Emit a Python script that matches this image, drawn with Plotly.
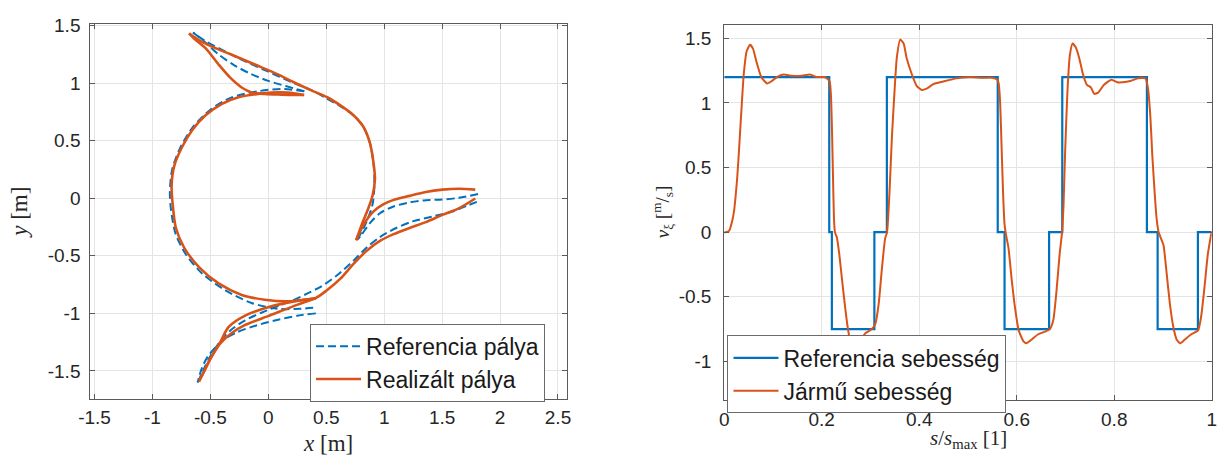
import plotly.graph_objects as go

# ---------------- Left chart: trajectories (None = separate segment) ----------------
ref_path_x = [
    -0.61, -0.56, -0.5, -0.42, -0.33, -0.2, -0.05, 0.1, 0.25, 0.33, 0.451, 0.593, 0.735, 0.849, 0.963, 1.104, 1.246, 1.417, 1.587, 1.729, 1.826, None,
    1.81, 1.644, 1.502, 1.36, 1.218, 1.076, 0.963, 0.877, 0.806, 0.77, None,
    0.77, 0.849, 0.9, 0.915, 0.91, 0.877, 0.82, 0.735, 0.62, 0.5, 0.37, 0.2, 0.0, -0.2, -0.4, -0.55, -0.65, None,
    -0.65, -0.55, -0.43, -0.3, -0.15, 0.0, 0.15, 0.31, None,
    0.31, 0.11, -0.09, -0.32, -0.5, -0.65, -0.76, -0.83, -0.85, -0.84, -0.8, -0.71, -0.57, -0.37, -0.145, 0.08, 0.28, 0.41, None,
    0.41, 0.261, 0.065, -0.098, -0.261, -0.391, -0.522, -0.575, -0.61,
]
ref_path_y = [
    -1.6, -1.49, -1.37, -1.25, -1.15, -1.06, -0.99, -0.93, -0.87, -0.83, -0.769, -0.669, -0.542, -0.428, -0.337, -0.258, -0.201, -0.158, -0.116, -0.059, -0.02, None,
    0.037, 0.004, -0.011, -0.016, -0.036, -0.073, -0.13, -0.215, -0.314, -0.357, None,
    -0.357, -0.2, -0.05, 0.1, 0.28, 0.48, 0.62, 0.72, 0.8, 0.87, 0.94, 1.01, 1.1, 1.19, 1.29, 1.37, 1.44, None,
    1.44, 1.36, 1.25, 1.16, 1.08, 1.02, 0.975, 0.93, None,
    0.93, 0.95, 0.93, 0.875, 0.77, 0.62, 0.44, 0.25, 0.05, -0.1, -0.31, -0.49, -0.655, -0.8, -0.91, -0.96, -0.96, -0.95, None,
    -1.0, -1.018, -1.06, -1.103, -1.16, -1.231, -1.374, -1.48, -1.6,
]
real_path_x = [
    -0.599, -0.556, -0.5, -0.415, -0.344, -0.2, 0.026, 0.2, 0.309, 0.409, 0.508, 0.622, 0.735, 0.849, 0.963, 1.076, 1.218, 1.36, 1.502, 1.644, 1.786, None,
    1.786, 1.644, 1.502, 1.36, 1.218, 1.076, 0.991, 0.906, 0.849, 0.792, 0.758, None,
    0.758, 0.806, 0.863, 0.9, 0.92, 0.911, 0.877, 0.82, 0.735, 0.622, 0.508, 0.366, 0.224, 0.082, -0.116, -0.315, -0.486, -0.599, -0.684, None,
    -0.684, -0.642, -0.542, -0.429, -0.329, -0.23, -0.145, -0.031, 0.111, 0.309, None,
    0.309, 0.168, 0.026, -0.088, -0.258, -0.4, -0.542, -0.656, -0.741, -0.812, -0.835, -0.826, -0.798, -0.727, -0.599, -0.429, -0.23, -0.031, 0.168, 0.309, 0.409, None,
    0.409, 0.253, -0.003, -0.2, -0.315, -0.415, -0.5, -0.556, -0.599,
]
real_path_y = [
    -1.592, -1.507, -1.393, -1.251, -1.12, -1.02, -0.939, -0.9, -0.882, -0.866, -0.797, -0.698, -0.57, -0.456, -0.371, -0.314, -0.258, -0.207, -0.144, -0.087, -0.002, None,
    0.075, 0.083, 0.075, 0.055, 0.021, -0.016, -0.053, -0.116, -0.187, -0.287, -0.365, None,
    -0.365, -0.229, -0.087, 0.026, 0.168, 0.282, 0.48, 0.622, 0.722, 0.807, 0.878, 0.94, 1.006, 1.077, 1.162, 1.247, 1.318, 1.375, 1.432, None,
    1.432, 1.389, 1.304, 1.162, 1.048, 0.963, 0.92, 0.906, 0.901, 0.898, None,
    0.898, 0.918, 0.918, 0.906, 0.878, 0.821, 0.722, 0.594, 0.452, 0.282, 0.111, -0.05, -0.258, -0.428, -0.598, -0.74, -0.84, -0.882, -0.896, -0.882, -0.868, None,
    -0.868, -0.924, -1.024, -1.1, -1.17, -1.26, -1.393, -1.507, -1.592,
]
left_xticks = [-1.5, -1, -0.5, 0, 0.5, 1, 1.5, 2, 2.5]
left_xtick_text = ["-1.5", "-1", "-0.5", "0", "0.5", "1", "1.5", "2", "2.5"]
left_yticks = [-1.5, -1, -0.5, 0, 0.5, 1, 1.5]
left_ytick_text = ["-1.5", "-1", "-0.5", "0", "0.5", "1", "1.5"]

# ---------------- Right chart: speeds ----------------
ref_s = [0, 0.2154, 0.2208, 0.308, 0.3336, 0.561, 0.575, 0.6664, 0.6934, 0.867, 0.889, 0.9716, 1.0]
ref_v = [1.2, 0, -0.75, 0, 1.2, 0, -0.75, 0, 1.2, 0, -0.75, 0, 0]

veh_s = [0, 0.003, 0.01, 0.016, 0.02, 0.027, 0.032, 0.036, 0.04, 0.046, 0.053, 0.059, 0.066, 0.076, 0.088, 0.098,
         0.108, 0.122, 0.138, 0.159, 0.176, 0.189, 0.206, 0.216, 0.219, 0.221, 0.223, 0.225, 0.227, 0.231, 0.236,
         0.242, 0.247, 0.253, 0.258, 0.265, 0.272, 0.28, 0.29, 0.303, 0.31, 0.317, 0.323, 0.33, 0.334, 0.339, 0.344,
         0.349, 0.354, 0.361, 0.368, 0.374, 0.385, 0.395, 0.405, 0.415, 0.429, 0.449, 0.476, 0.503, 0.53, 0.55, 0.56,
         0.563, 0.566, 0.569, 0.572, 0.575, 0.578, 0.583, 0.59, 0.597, 0.604, 0.614, 0.62, 0.631, 0.644, 0.658, 0.668,
         0.675, 0.681, 0.688, 0.693, 0.696, 0.699, 0.704, 0.709, 0.7145, 0.721, 0.728, 0.736, 0.744, 0.752, 0.759,
         0.767, 0.779, 0.794, 0.806, 0.817, 0.833, 0.848, 0.864, 0.869, 0.874, 0.878, 0.883, 0.887, 0.891, 0.895,
         0.901, 0.907, 0.914, 0.921, 0.928, 0.935, 0.945, 0.958, 0.972, 0.978, 0.985, 0.992, 0.999]
veh_v = [0, 0.0, 0.01, 0.08, 0.16, 0.44, 0.74, 0.99, 1.22, 1.40, 1.45, 1.42, 1.32, 1.20, 1.15, 1.17,
         1.20, 1.22, 1.21, 1.21, 1.22, 1.20, 1.20, 1.17, 1.05, 0.8, 0.45, 0.12, 0.0, -0.04, -0.17,
         -0.38, -0.55, -0.73, -0.83, -0.86, -0.85, -0.83, -0.78, -0.75, -0.71, -0.55, -0.30, -0.05, 0.0, 0.31, 0.74,
         1.07, 1.35, 1.49, 1.46, 1.35, 1.22, 1.13, 1.10, 1.11, 1.145, 1.165, 1.19, 1.20, 1.195, 1.195, 1.18,
         1.15, 1.0, 0.65, 0.3, 0.06, -0.02, -0.12, -0.38, -0.6, -0.76, -0.845, -0.86, -0.83, -0.79, -0.77, -0.75,
         -0.68, -0.48, -0.17, 0.0, 0.21, 0.59, 1.09, 1.37, 1.46, 1.43, 1.35, 1.22, 1.14, 1.12, 1.07,
         1.08, 1.14, 1.18, 1.16, 1.16, 1.17, 1.19, 1.19, 1.12, 0.9, 0.6, 0.3, 0.1, 0.0, -0.04,
         -0.1, -0.3, -0.55, -0.73, -0.83, -0.86, -0.83, -0.79, -0.76, -0.66, -0.43, -0.17, -0.01]
right_xticks = [0, 0.2, 0.4, 0.6, 0.8, 1]
right_xtick_text = ["0", "0.2", "0.4", "0.6", "0.8", "1"]
right_yticks = [-1, -0.5, 0, 0.5, 1, 1.5]
right_ytick_text = ["-1", "-0.5", "0", "0.5", "1", "1.5"]

# ---------------- Figure ----------------
W, H = 1219, 458
BLUE = "#0072BD"
ORANGE = "#D95319"
SANS = "Liberation Sans, Arial, sans-serif"
SERIF = "Liberation Serif, Times New Roman, serif"

fig = go.Figure()
fig.add_trace(go.Scatter(x=ref_path_x, y=ref_path_y, mode="lines", name="Referencia pálya",
                         line=dict(color=BLUE, width=2, dash="8px,4px", shape="spline", smoothing=0.8),
                         xaxis="x", yaxis="y", legend="legend"))
fig.add_trace(go.Scatter(x=real_path_x, y=real_path_y, mode="lines", name="Realizált pálya",
                         line=dict(color=ORANGE, width=2.6, shape="spline", smoothing=0.8),
                         xaxis="x", yaxis="y", legend="legend"))
fig.add_trace(go.Scatter(x=ref_s, y=ref_v, mode="lines", name="Referencia sebesség",
                         line=dict(color=BLUE, width=2.2, shape="hv"),
                         xaxis="x2", yaxis="y2", legend="legend2"))
fig.add_trace(go.Scatter(x=veh_s, y=veh_v, mode="lines", name="Jármű sebesség",
                         line=dict(color=ORANGE, width=2, shape="spline", smoothing=0.5),
                         xaxis="x2", yaxis="y2", legend="legend2"))

axis_common = dict(showgrid=True, gridcolor="#e4e4e4", gridwidth=1, showline=True, linecolor="#5a5a5a",
                   linewidth=1, mirror="allticks", ticks="inside", ticklen=5, tickcolor="#5a5a5a",
                   zeroline=False, tickfont=dict(family=SANS, size=19, color="#262626"), fixedrange=True)

def px_x(p):
    return p / W

def px_y(p):
    return 1 - p / H

fig.update_layout(
    width=W, height=H, autosize=False,
    margin=dict(l=0, r=0, t=0, b=0, pad=0),
    paper_bgcolor="white", plot_bgcolor="white",
    xaxis=dict(axis_common, domain=[px_x(79.3), px_x(562.3)], range=[-1.537, 2.577], anchor="y",
               tickmode="array", tickvals=left_xticks, ticktext=left_xtick_text, ticklabelstandoff=1),
    yaxis=dict(axis_common, domain=[px_y(397.7), px_y(15.7)], range=[-1.743, 1.511], anchor="x",
               tickmode="array", tickvals=left_yticks, ticktext=left_ytick_text, ticklabelstandoff=5),
    xaxis2=dict(axis_common, domain=[px_x(721.7), px_x(1215.7)], range=[0, 1], anchor="y2",
                tickmode="array", tickvals=right_xticks, ticktext=right_xtick_text, ticklabelstandoff=2),
    yaxis2=dict(axis_common, domain=[px_y(399), px_y(16.7)], range=[-1.3, 1.6], anchor="x2",
                tickmode="array", tickvals=right_yticks, ticktext=right_ytick_text, ticklabelstandoff=8),
    legend=dict(x=px_x(302), y=px_y(321), xanchor="left", yanchor="top", bgcolor="white",
                bordercolor="#6a6a6a", borderwidth=1, itemwidth=45, tracegroupgap=0,
                font=dict(family=SANS, size=23, color="#1a1a1a")),
    legend2=dict(x=px_x(725), y=px_y(333), xanchor="left", yanchor="top", bgcolor="white",
                 bordercolor="#6a6a6a", borderwidth=1, itemwidth=45, tracegroupgap=0,
                 font=dict(family=SANS, size=23, color="#1a1a1a")),
    annotations=[
        dict(text="<i>x</i> [m]", x=px_x(320), y=px_y(443), xref="paper", yref="paper",
             showarrow=False, xanchor="center", yanchor="middle",
             font=dict(family=SERIF, size=23, color="#262626")),
        dict(text="<i>y</i> [m]", x=px_x(8), y=px_y(207), xref="paper", yref="paper",
             showarrow=False, xanchor="center", yanchor="middle", textangle=-90,
             font=dict(family=SERIF, size=23, color="#262626")),
        dict(text="<i>s</i>/<i>s</i><sub>max</sub> [1]", x=px_x(969), y=px_y(439), xref="paper", yref="paper",
             showarrow=False, xanchor="center", yanchor="middle",
             font=dict(family=SERIF, size=21, color="#262626")),
        dict(text="<i>v</i><sub>ξ</sub> [<sup>m</sup>/<sub>s</sub>]", x=px_x(660), y=px_y(207), xref="paper", yref="paper",
             showarrow=False, xanchor="center", yanchor="middle", textangle=-90,
             font=dict(family=SERIF, size=19, color="#262626")),
    ],
)

fig.write_html("out.html")
